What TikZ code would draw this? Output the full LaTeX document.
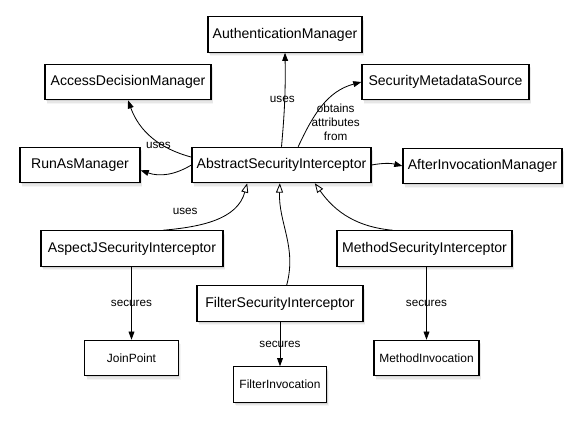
\documentclass[tikz,border=0pt]{standalone}
\usepackage{fontspec}
\setmainfont{Liberation Sans}
\usetikzlibrary{arrows.meta,shadows}

\begin{document}
\begin{tikzpicture}[x=0.03cm,y=-0.03cm,
		cls/.style={draw,line width=1pt,fill=white,minimum height=1.06cm,inner xsep=4pt,
			font=\fontsize{12}{14}\selectfont,
			drop shadow={shadow xshift=2pt,shadow yshift=-3.5pt,opacity=0.08},
			drop shadow={shadow xshift=1.5pt,shadow yshift=-2.5pt,opacity=0.12},
			drop shadow={shadow xshift=1pt,shadow yshift=-1.5pt,opacity=0.18}},
		small/.style={cls,font=\fontsize{10.2}{12}\selectfont,minimum width=2.8cm},
		dep/.style={-{Triangle[length=7pt,width=5pt]},line width=0.7pt},
		isa/.style={-{Triangle[open,length=8pt,width=6pt]},line width=0.7pt},
		lbl/.style={font=\fontsize{10}{12}\selectfont,inner sep=1pt}]
	\useasboundingbox (0,0) rectangle (582,426);
	
	% the managers round the interceptor
	\node[cls,minimum width=4.62cm] (auth) at (285,34.5) {AuthenticationManager};
	\node[cls,minimum width=4.98cm] (adm) at (128,82) {AccessDecisionManager};
	\node[cls,minimum width=5.01cm] (sms) at (445.5,82) {SecurityMetadataSource};
	\node[cls,minimum width=3.6cm] (runas) at (80,165) {RunAsManager};
	\node[cls,minimum width=5.37cm] (asi) at (281.5,165) {AbstractSecurityInterceptor};
	\node[cls,minimum width=4.77cm] (aim) at (482.5,166) {AfterInvocationManager};
	
	% the three interceptors and what they secure
	\node[cls,minimum width=5.46cm] (aspectj) at (132,248.5) {AspectJSecurityInterceptor};
	\node[cls,minimum width=4.98cm] (filter) at (280,303.5) {FilterSecurityInterceptor};
	\node[cls,minimum width=5.25cm] (method) at (424.5,248.5) {MethodSecurityInterceptor};
	\node[small] (joinpoint) at (131.5,358) {JoinPoint};
	\node[small] (filterinv) at (280,384.5) {FilterInvocation};
	\node[small,minimum width=3.15cm] (methodinv) at (426.5,358) {MethodInvocation};
	
	\draw[dep] (asi.north) to[bend right=3] node[lbl,xshift=-2pt]{uses} (auth.south);
	\draw[dep] (asi.175) to[out=165,in=-70]
	node[lbl,pos=0.4,above=-7pt]{uses} (adm.south);
	\draw[dep] (asi.west) to[bend left=25] (runas.-5);
	\draw[dep] ([xshift=0.5cm]asi.north) to[out=65,in=195]
	node[lbl,align=center,pos=0.4,right=-6pt,yshift=-0.3cm]{obtains\\attributes\\from} (sms.west);
	\draw[dep] (asi.east) to[bend left=12] (aim.west);
	
	\draw[isa] ([xshift=0.93cm]aspectj.north) to[out=5,in=-105]
	node[lbl,pos=0.2,above=10pt]{uses} ([xshift=-1.03cm]asi.south);
	\draw[isa] ([xshift=0.2cm]filter.north) to[out=75,in=-92] ([xshift=-0.05cm]asi.south);
	\draw[isa] ([xshift=-0.95cm]method.north) to[out=175,in=-55] ([xshift=1.0cm]asi.south);
	
	\foreach \a/\b in {aspectj/joinpoint,filter/filterinv,method/methodinv}{% each interceptor secures one thing
		\draw[dep] (\b.north |- \a.south) -- node[lbl]{secures} (\b.north);
	}
\end{tikzpicture}
\end{document}
